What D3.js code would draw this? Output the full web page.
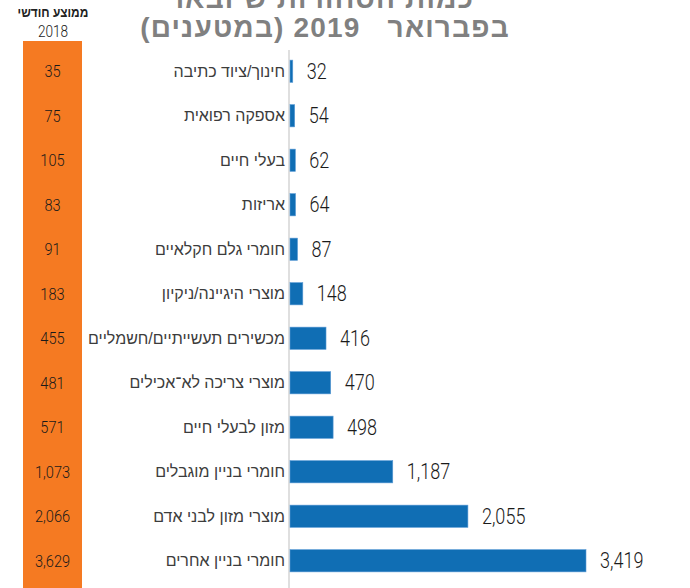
<!DOCTYPE html>
<html>
<head>
<meta charset="utf-8">
<script src="https://cdn.jsdelivr.net/npm/d3@7"></script>
<style>
  body { margin: 0; background: #fff; }
  svg { display: block; }
  .cat { font-family: "Liberation Sans", Arial, sans-serif; font-size: 16px; fill: #3c3c3c; }
  .val { font-family: Roboto, "Liberation Sans", sans-serif; font-weight: 300; font-size: 22px; fill: #1a1a1a; }
  .avg { font-family: Roboto, "Liberation Sans", sans-serif; font-weight: 300; font-size: 17px; fill: #1a1a1a; }
  .title { font-family: "Liberation Sans", Arial, sans-serif; font-size: 28px; font-weight: bold; fill: #808080; letter-spacing: 1.2px; white-space: pre; }
</style>
</head>
<body>
<svg id="chart" width="690" height="588"></svg>
<script>
// data
var categories = ["חינוך/ציוד כתיבה", "אספקה רפואית", "בעלי חיים", "אריזות", "חומרי גלם חקלאיים",
  "מוצרי היגיינה/ניקיון", "מכשירים תעשייתיים/חשמליים", "מוצרי צריכה לא־אכילים", "מזון לבעלי חיים",
  "חומרי בניין מוגבלים", "מוצרי מזון לבני אדם", "חומרי בניין אחרים"];
var feb2019 = [32, 54, 62, 64, 87, 148, 416, 470, 498, 1187, 2055, 3419];
var avg2018 = [35, 75, 105, 83, 91, 183, 455, 481, 571, 1073, 2066, 3629];
var titleLines = ["כמות הסחורות שיובאו", "בפברואר   2019 (במטענים)"];
var avgHeader = ["ממוצע חודשי", "2018"];

var fmt = d3.format(",");
var svg = d3.select("#chart");

var rows = categories.map(function (c, i) { return { name: c, val: feb2019[i], avg: avg2018[i] }; });

var axisX = 289;
var x = d3.scaleLinear().domain([0, 3419]).range([axisX, axisX + 296]);
var y = d3.scaleBand().domain(categories).range([49, 583]).paddingInner(0.5).paddingOuter(0.25);

// narrow numbers: squeeze horizontally, the text stays text
function narrow(sel, fx, fy, k) {
  sel.attr("transform", function (d, i) {
    return "translate(" + fx(d, i) + "," + fy(d, i) + ") scale(" + k + ",1)";
  });
}

//title
svg.selectAll(".title")
  .data(titleLines)
  .enter().append("text")
  .attr("class", "title")
  .attr("direction", "rtl")
  .attr("x", 325)
  .attr("y", function (d, i) { return 8 + i * 29; })
  .attr("text-anchor", "middle")
  .text(function (d) { return d; });

//orange column with the 2018 average
svg.append("rect")
  .attr("x", 23).attr("y", 41)
  .attr("width", 59).attr("height", 547)
  .style("fill", "#f57a22");

svg.append("text")
  .attr("text-anchor", "middle")
  .attr("direction", "rtl")
  .attr("transform", "translate(53,17) scale(0.85,1)")
  .style("font-family", "Liberation Sans, sans-serif")
  .style("font-size", "14px").style("font-weight", "bold").style("fill", "#222")
  .text(avgHeader[0]);
svg.append("text")
  .attr("class", "avg")
  .attr("text-anchor", "middle")
  .attr("transform", "translate(53,37) scale(0.85,1)")
  .style("font-size", "16px")
  .text(avgHeader[1]);

svg.append("g").selectAll("text")
  .data(rows)
  .enter().append("text")
  .attr("class", "avg")
  .attr("dy", "0.35em")
  .attr("text-anchor", "middle")
  .text(function (d) { return fmt(d.avg); })
  .call(narrow, function () { return 52.5; },
    function (d) { return y(d.name) + y.bandwidth() / 2; }, 0.86);

//axis line
svg.append("line")
  .attr("x1", axisX).attr("x2", axisX)
  .attr("y1", 50).attr("y2", 588)
  .style("stroke", "#d4d4d4").style("stroke-width", 1.5);

//bars
svg.append("g").selectAll("rect")
  .data(rows)
  .enter().append("rect")
  .attr("x", x(0) + 1)
  .attr("y", function (d) { return y(d.name); })
  .attr("width", function (d) { return x(d.val) - x(0); })
  .attr("height", y.bandwidth())
  .style("fill", "#106eb4")
  .style("stroke", "#5b9bd5").style("stroke-width", 0.6);

//value labels
svg.append("g").selectAll("text")
  .data(rows)
  .enter().append("text")
  .attr("class", "val")
  .attr("dy", "0.35em")
  .text(function (d) { return fmt(d.val); })
  .call(narrow, function (d) { return x(d.val) + 15; },
    function (d) { return y(d.name) + y.bandwidth() / 2; }, 0.82);

//category labels
svg.append("g").selectAll("text")
  .data(rows)
  .enter().append("text")
  .attr("class", "cat")
  .attr("direction", "rtl")
  .attr("x", axisX - 4)
  .attr("y", function (d) { return y(d.name) + y.bandwidth() / 2; })
  .attr("dy", "0.35em")
  .attr("text-anchor", "start")
  .text(function (d) { return d.name; });
</script>
</body>
</html>
